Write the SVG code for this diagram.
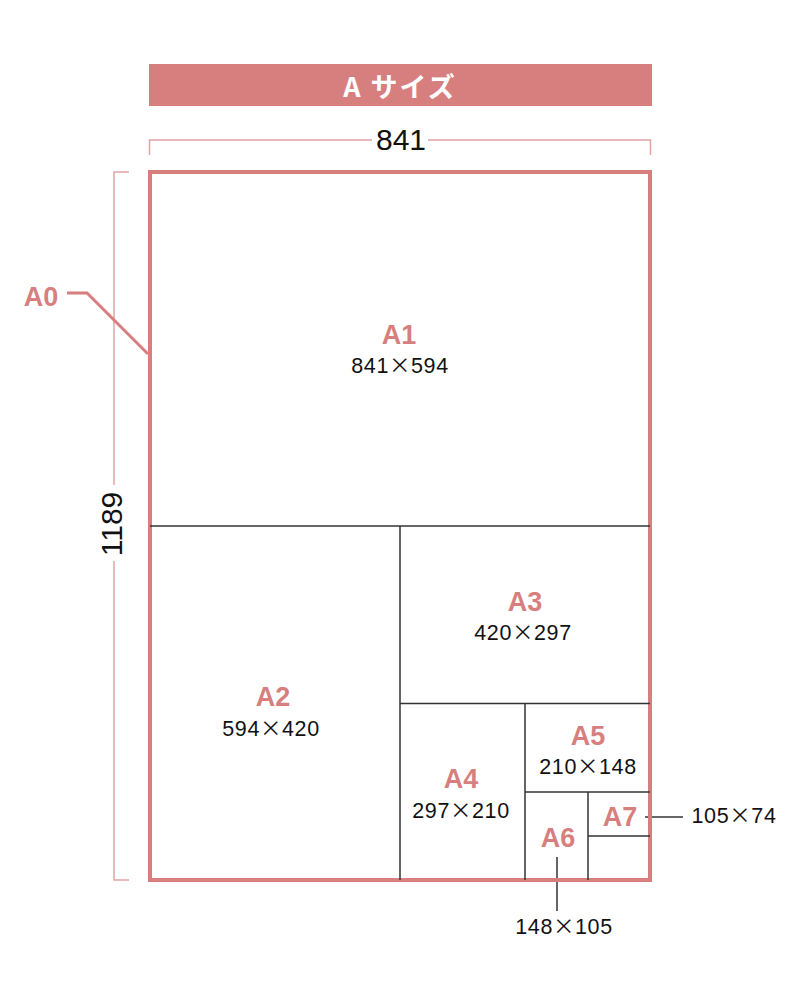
<svg xmlns="http://www.w3.org/2000/svg" width="800" height="1000" viewBox="0 0 800 1000">
<style>
.pink{fill:#d77f7e}
.lbl{font-family:"Liberation Sans",Arial,sans-serif;font-weight:bold;font-size:27px;fill:#d77f7e;text-anchor:middle}
.num{font-family:"Liberation Sans",Arial,sans-serif;font-size:21.5px;fill:#111;text-anchor:middle;letter-spacing:0.6px}
.x{font-family:"Noto Sans CJK JP",sans-serif}
.dim{font-family:"Liberation Sans",Arial,sans-serif;font-size:30px;fill:#111;text-anchor:middle}
.in{stroke:#333;stroke-width:1.5;fill:none}
.dl{stroke:#e3a3a3;stroke-width:1.5;fill:none}
</style>
<rect width="800" height="1000" fill="#fff"/>
<g id="header">
<rect x="149" y="64" width="503" height="42" fill="#d77f7e"/>
<text x="400" y="97" font-family="'Noto Sans CJK JP',sans-serif" font-weight="bold" font-size="27" fill="#fff" text-anchor="middle" letter-spacing="2">A サイズ</text>
</g>
<g id="dim-width">
<path class="dl" d="M149.5,155 V140 H372 M428,140 H650.5 V155"/>
<text class="dim" x="401" y="150">841</text>
</g>
<g id="dim-height">
<path class="dl" d="M129,172 H114 V485 M114,561 V880 H129"/>
<text class="dim" transform="translate(122,524) rotate(-90)">1189</text>
</g>
<g id="connectors">
<polyline points="67,293 87,293 148,354" fill="none" stroke="#d77f7e" stroke-width="3"/>
<line class="in" x1="645" y1="817" x2="683" y2="817"/>
<line class="in" x1="557" y1="857" x2="557" y2="911"/>
</g>
<g id="a0">
<rect x="150" y="172" width="500" height="708" fill="none" stroke="#d77f7e" stroke-width="4"/>
<text class="lbl" x="41" y="306" font-size="29">A0</text>
</g>
<g id="a1">
<line class="in" x1="150" y1="526" x2="650" y2="526"/>
<text class="lbl" x="399" y="344">A1</text>
<text class="num" x="400" y="373">841<tspan class="x">×</tspan>594</text>
</g>
<g id="a2">
<line class="in" x1="400" y1="526" x2="400" y2="880"/>
<text class="lbl" x="273" y="706">A2</text>
<text class="num" x="271" y="736">594<tspan class="x">×</tspan>420</text>
</g>
<g id="a3">
<line class="in" x1="400" y1="703.5" x2="650" y2="703.5"/>
<text class="lbl" x="525" y="611">A3</text>
<text class="num" x="523" y="640">420<tspan class="x">×</tspan>297</text>
</g>
<g id="a4">
<line class="in" x1="525" y1="703.5" x2="525" y2="880"/>
<text class="lbl" x="461" y="788">A4</text>
<text class="num" x="461" y="818">297<tspan class="x">×</tspan>210</text>
</g>
<g id="a5">
<line class="in" x1="525" y1="792" x2="650" y2="792"/>
<text class="lbl" x="588" y="745">A5</text>
<text class="num" x="588" y="774">210<tspan class="x">×</tspan>148</text>
</g>
<g id="a6">
<line class="in" x1="588" y1="792" x2="588" y2="880"/>
<text class="lbl" x="558" y="847">A6</text>
<text class="num" x="564" y="934">148<tspan class="x">×</tspan>105</text>
</g>
<g id="a7">
<line class="in" x1="588" y1="836" x2="650" y2="836"/>
<text class="lbl" x="620" y="826">A7</text>
<text class="num" x="734" y="823">105<tspan class="x">×</tspan>74</text>
</g>
</svg>
